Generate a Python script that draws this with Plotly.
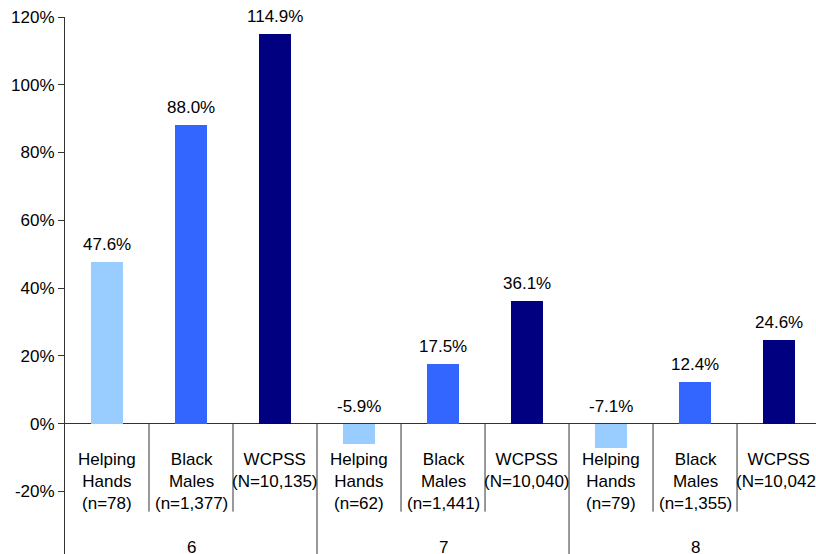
import plotly.graph_objects as go

# ---- data ----
grades = ["6", "7", "8"]
series_names = ["Helping Hands", "Black Males", "WCPSS"]
helping_hands = [47.6, -5.9, -7.1]
black_males = [88.0, 17.5, 12.4]
wcpss = [114.9, 36.1, 24.6]
hh_labels = ["Helping<br>Hands<br>(n=78)", "Helping<br>Hands<br>(n=62)", "Helping<br>Hands<br>(n=79)"]
bm_labels = ["Black<br>Males<br>(n=1,377)", "Black<br>Males<br>(n=1,441)", "Black<br>Males<br>(n=1,355)"]
wc_labels = ["WCPSS<br>(N=10,135)", "WCPSS<br>(N=10,040)", "WCPSS<br>(N=10,042)"]
y_ticks = [-20, 0, 20, 40, 60, 80, 100, 120]

colors = ["#99CCFF", "#3366FF", "#000080"]
FONT = "Liberation Sans, Arial, sans-serif"
FS = 17
Y_MIN, Y_MAX = -38.5, 120

all_vals = [helping_hands, black_males, wcpss]
all_cats = [hh_labels, bm_labels, wc_labels]

fig = go.Figure()
annotations = []
shapes = []
for s, (vals, cats, col, name) in enumerate(zip(all_vals, all_cats, colors, series_names)):
    xs = [3 * g + s for g in range(len(grades))]
    fig.add_trace(go.Bar(x=xs, y=vals, width=0.38, marker=dict(color=col, line=dict(width=0)),
                         name=name, showlegend=False, cliponaxis=False))
    for x, v, c in zip(xs, vals, cats):
        annotations.append(dict(x=x, y=max(v, 0), xref="x", yref="y", text=f"{v:.1f}%",
                                showarrow=False, yanchor="bottom", yshift=6,
                                font=dict(size=FS, color="black", family=FONT)))
        annotations.append(dict(x=x, y=0, xref="x", yref="y", text=c,
                                showarrow=False, yanchor="top", yshift=-24,
                                font=dict(size=FS, color="black", family=FONT)))

for g, gl in enumerate(grades):
    annotations.append(dict(x=3 * g + 1, y=0, xref="x", yref="paper", text=gl,
                            showarrow=False, yanchor="middle", yshift=7,
                            font=dict(size=FS, color="black", family=FONT)))

n_cats = 3 * len(grades)
for i in range(n_cats - 1):
    boundary = (i + 1) % 3 == 0
    shapes.append(dict(type="line", xref="x", x0=i + 0.5, x1=i + 0.5,
                       yref="y", y0=0, y1=Y_MIN if boundary else -26,
                       line=dict(color="#333333", width=1)))

fig.update_layout(
    width=816, height=554,
    margin=dict(l=65, r=0, t=17, b=0, autoexpand=False),
    paper_bgcolor="white", plot_bgcolor="white",
    font=dict(family=FONT, size=FS, color="black"),
    xaxis=dict(range=[-0.5, 8.44], visible=False, automargin=False),
    yaxis=dict(range=[Y_MIN, Y_MAX], tickvals=y_ticks, ticktext=[f"{t}%" for t in y_ticks],
               automargin=False, ticklabeloverflow="allow",
               showgrid=False, showline=True, linecolor="#333333", linewidth=1,
               ticks="outside", ticklen=6, tickcolor="#333333",
               zeroline=True, zerolinecolor="#333333", zerolinewidth=1,
               tickfont=dict(size=FS, color="black", family=FONT)),
    annotations=annotations,
    shapes=shapes,
    bargap=0,
    hovermode=False,
)

# remove the default page margin so the figure fills the window exactly
fig.write_html("out.html",
               config={"displayModeBar": False, "staticPlot": True},
               post_script="document.body.style.margin='0';document.body.style.overflow='hidden';")
